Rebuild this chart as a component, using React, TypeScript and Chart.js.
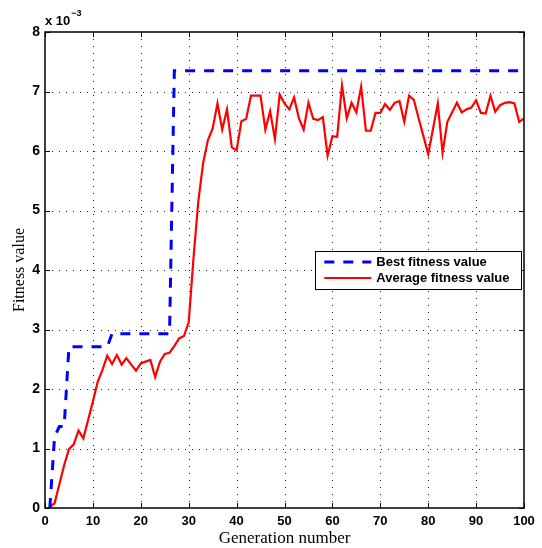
import React, { useEffect, useRef } from 'react';
import { Chart, registerables } from 'chart.js';

Chart.register(...registerables);

// Generation numbers (x categories)
const generations: number[] = Array.from({ length: 100 }, (_, i) => i + 1);

// Best fitness value (units of 1e-3)
const bestFitness: number[] = [
  0, 1.2, 1.37, 1.37,
  2.71, 2.71, 2.71, 2.71, 2.71, 2.71, 2.71, 2.71, 2.71,
  2.93, 2.93, 2.93, 2.93, 2.93, 2.93, 2.93, 2.93, 2.93, 2.93, 2.93, 2.93, 2.93,
  7.35, 7.35, 7.35, 7.35, 7.35, 7.35, 7.35, 7.35, 7.35, 7.35,
  7.35, 7.35, 7.35, 7.35, 7.35, 7.35, 7.35, 7.35, 7.35, 7.35,
  7.35, 7.35, 7.35, 7.35, 7.35, 7.35, 7.35, 7.35, 7.35, 7.35,
  7.35, 7.35, 7.35, 7.35, 7.35, 7.35, 7.35, 7.35, 7.35, 7.35,
  7.35, 7.35, 7.35, 7.35, 7.35, 7.35, 7.35, 7.35, 7.35, 7.35,
  7.35, 7.35, 7.35, 7.35, 7.35, 7.35, 7.35, 7.35, 7.35, 7.35,
  7.35, 7.35, 7.35, 7.35, 7.35, 7.35, 7.35, 7.35, 7.35, 7.35,
  7.35, 7.35, 7.35, 7.35,
];

// Average fitness value (units of 1e-3)
const averageFitness: number[] = [
  0.02, 0.08, 0.40, 0.72, 0.99, 1.07, 1.30, 1.17, 1.48, 1.79,
  2.12, 2.32, 2.56, 2.42, 2.57, 2.41, 2.52, 2.41, 2.31, 2.43,
  2.46, 2.49, 2.20, 2.46, 2.59, 2.61, 2.72, 2.85, 2.89, 3.12,
  4.20, 5.15, 5.79, 6.18, 6.38, 6.80, 6.36, 6.70, 6.06, 6.01,
  6.50, 6.54, 6.93, 6.93, 6.93, 6.36, 6.67, 6.20, 6.95, 6.80,
  6.70, 6.90, 6.55, 6.36, 6.81, 6.54, 6.52, 6.57, 5.92, 6.25,
  6.24, 7.10, 6.55, 6.81, 6.65, 7.08, 6.34, 6.34, 6.64, 6.64,
  6.79, 6.69, 6.81, 6.84, 6.49, 6.93, 6.86, 6.55, 6.25, 5.95,
  6.37, 6.80, 5.97, 6.49, 6.65, 6.81, 6.65, 6.70, 6.73, 6.85,
  6.64, 6.63, 6.93, 6.66, 6.77, 6.81, 6.82, 6.80, 6.49, 6.55,
];

const seriesLabels = ['Best fitness value', 'Average fitness value'];
const xAxisTitle = 'Generation number';
const yAxisTitle = 'Fitness value';
const exponentBase = 'x 10';
const exponentPower = '\u22123';

const SANS = '"Liberation Sans", Arial, Helvetica, sans-serif';
const SERIF = '"Liberation Serif", "DejaVu Serif", serif';

const matlabPlugin = {
  id: 'matlabPlugin',
  beforeDatasetsDraw(chart: any) {
    const { ctx, chartArea: a, scales } = chart;
    const xs = scales.x;
    const ys = scales.y;
    ctx.save();
    ctx.strokeStyle = '#222';
    ctx.lineWidth = 1;
    ctx.setLineDash([1, 6]);
    xs.ticks.forEach((t: any) => {
      if (t.value > xs.min && t.value < xs.max) {
        const px = Math.round(xs.getPixelForValue(t.value)) + 0.5;
        ctx.beginPath();
        ctx.moveTo(px, a.top);
        ctx.lineTo(px, a.bottom);
        ctx.stroke();
      }
    });
    ys.ticks.forEach((t: any) => {
      if (t.value > ys.min && t.value < ys.max) {
        const py = Math.round(ys.getPixelForValue(t.value)) + 0.5;
        ctx.beginPath();
        ctx.moveTo(a.left, py);
        ctx.lineTo(a.right, py);
        ctx.stroke();
      }
    });
    ctx.restore();
  },
  afterDatasetsDraw(chart: any) {
    const { ctx, chartArea: a, scales } = chart;
    const xs = scales.x;
    const ys = scales.y;
    ctx.save();
    // tick marks (inward, all four sides)
    ctx.setLineDash([]);
    ctx.strokeStyle = '#000';
    ctx.lineWidth = 1;
    const tl = 5;
    xs.ticks.forEach((t: any) => {
      const px = Math.round(xs.getPixelForValue(t.value)) + 0.5;
      ctx.beginPath();
      ctx.moveTo(px, a.bottom);
      ctx.lineTo(px, a.bottom - tl);
      ctx.moveTo(px, a.top);
      ctx.lineTo(px, a.top + tl);
      ctx.stroke();
    });
    ys.ticks.forEach((t: any) => {
      const py = Math.round(ys.getPixelForValue(t.value)) + 0.5;
      ctx.beginPath();
      ctx.moveTo(a.left, py);
      ctx.lineTo(a.left + tl, py);
      ctx.moveTo(a.right, py);
      ctx.lineTo(a.right - tl, py);
      ctx.stroke();
    });
    // frame
    ctx.lineWidth = 1.5;
    ctx.strokeRect(a.left, a.top, a.right - a.left, a.bottom - a.top);

    // legend
    const ds = chart.data.datasets;
    ctx.font = `bold 13px ${SANS}`;
    const textW = Math.max(...ds.map((d: any) => ctx.measureText(d.label).width));
    const padL = 9, sampleW = 47, gap = 5, padR = 12, rowH = 16;
    const boxW = padL + sampleW + gap + textW + padR;
    const boxH = 38;
    const boxR = a.right - 2.5;
    const boxL = boxR - boxW;
    const boxT = 251;
    ctx.fillStyle = '#fff';
    ctx.fillRect(boxL, boxT, boxW, boxH);
    ctx.lineWidth = 1;
    ctx.strokeStyle = '#000';
    ctx.strokeRect(Math.round(boxL) + 0.5, boxT + 0.5, Math.round(boxW), boxH);
    ds.forEach((d: any, i: number) => {
      const cy = boxT + 11 + i * rowH;
      ctx.strokeStyle = d.borderColor;
      ctx.lineWidth = d.borderWidth;
      ctx.setLineDash(d.borderDash || []);
      ctx.beginPath();
      ctx.moveTo(boxL + padL, cy);
      ctx.lineTo(boxL + padL + sampleW, cy);
      ctx.stroke();
      ctx.setLineDash([]);
      ctx.fillStyle = '#000';
      ctx.textAlign = 'left';
      ctx.textBaseline = 'middle';
      ctx.fillText(d.label, boxL + padL + sampleW + gap, cy + 0.5);
    });

    // exponent label
    ctx.fillStyle = '#000';
    ctx.textBaseline = 'alphabetic';
    ctx.textAlign = 'left';
    ctx.font = `bold 13px ${SANS}`;
    ctx.fillText(exponentBase, a.left, a.top - 7);
    const w = ctx.measureText(exponentBase).width;
    ctx.font = `bold 9px ${SANS}`;
    ctx.fillText(exponentPower, a.left + w + 1, a.top - 16);

    // axis titles
    ctx.font = `17px ${SERIF}`;
    ctx.textAlign = 'center';
    ctx.textBaseline = 'middle';
    ctx.fillText(xAxisTitle, (a.left + a.right) / 2, 539);
    ctx.save();
    ctx.translate(20, (a.top + a.bottom) / 2);
    ctx.rotate(-Math.PI / 2);
    ctx.font = `16px ${SERIF}`;
    ctx.fillText(yAxisTitle, 0, 0);
    ctx.restore();

    ctx.restore();
  },
};

export default function App() {
  const canvasRef = useRef<HTMLCanvasElement | null>(null);

  useEffect(() => {
    document.body.style.margin = '0';
    const canvas = canvasRef.current;
    if (!canvas) return;
    const chart = new Chart(canvas, {
      type: 'line',
      data: {
        datasets: [
          {
            label: seriesLabels[0],
            data: generations.map((g, i) => ({ x: g, y: bestFitness[i] })),
            borderColor: '#0000ff',
            backgroundColor: '#0000ff',
            borderWidth: 3,
            borderDash: [10, 9],
            pointRadius: 0,
            tension: 0,
            fill: false,
          },
          {
            label: seriesLabels[1],
            data: generations.map((g, i) => ({ x: g, y: averageFitness[i] })),
            borderColor: '#ff0000',
            backgroundColor: '#ff0000',
            borderWidth: 2.2,
            pointRadius: 0,
            tension: 0,
            fill: false,
          },
        ],
      },
      options: {
        responsive: false,
        animation: false,
        devicePixelRatio: 1,
        layout: { padding: { top: 32, right: 18, left: 0, bottom: 0 } },
        plugins: {
          legend: { display: false },
          tooltip: { enabled: false },
          title: { display: false },
        },
        scales: {
          x: {
            type: 'linear',
            min: 0,
            max: 100,
            grid: { display: false, drawTicks: false },
            border: { display: false },
            ticks: {
              stepSize: 10,
              color: '#000',
              padding: 6,
              maxRotation: 0,
              font: { family: SANS, size: 13, weight: 'bold' },
            },
            afterFit: (s: any) => {
              s.height = 40;
            },
          },
          y: {
            type: 'linear',
            min: 0,
            max: 8,
            grid: { display: false, drawTicks: false },
            border: { display: false },
            ticks: {
              stepSize: 1,
              color: '#000',
              padding: 5,
              font: { family: SANS, size: 14, weight: 'bold' },
            },
            afterFit: (s: any) => {
              s.width = 45;
            },
          },
        },
      },
      plugins: [matlabPlugin],
    });
    return () => chart.destroy();
  }, []);

  return (
    <div style={{ width: 542, height: 548, background: '#fff' }}>
      <canvas ref={canvasRef} width={542} height={548} />
    </div>
  );
}
